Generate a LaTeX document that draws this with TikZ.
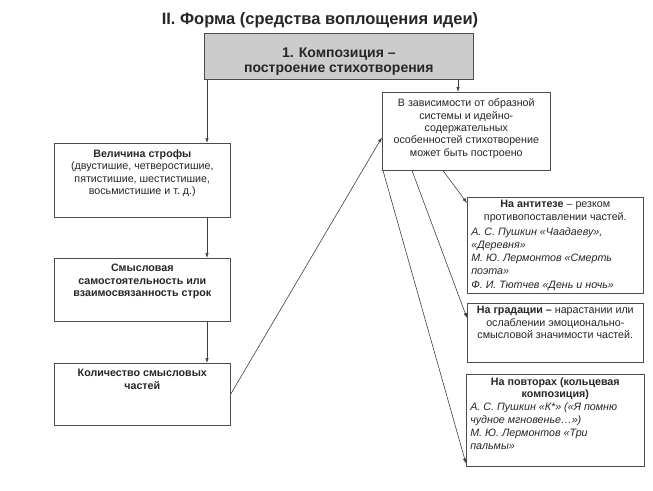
\documentclass[tikz,border=0pt]{standalone}
\usepackage{fontspec}
\setmainfont{Liberation Sans}
\usetikzlibrary{arrows.meta}
\long\def\boxtxt#1#2#3{\parbox[t][#2][t]{#1}{\centering #3}}

\begin{document}
\begin{tikzpicture}[x=1pt,y=-1pt,
	blk/.style={draw=black!70, line width=0.6pt, fill=white, inner xsep=4pt, inner ysep=0pt,
		anchor=north west, font=\fontsize{10.7}{12.4}\selectfont, text=black!85},
	arr/.style={draw=black!75, line width=0.6pt, -{Latex[length=5pt,width=3.5pt]}}]
			%%%%% START %%%%%
			\useasboundingbox (0,0) rectangle (653,490);
			
			\node[font=\fontsize{16.5}{18}\selectfont\bfseries, text=black!85] (title) at (320,20) {II. Форма (средства воплощения идеи)};
			
			\node[blk, fill=black!20, font=\fontsize{14}{15}\selectfont\bfseries] (top) at (204,33)
				{\boxtxt{261pt}{46pt}{\vspace*{15pt}1. Композиция –\\построение стихотворения}};
			
			% left column
			\node[blk] (b1) at (54,143) {\boxtxt{168pt}{74pt}{\vspace*{6.5pt}\textbf{Величина строфы}\\(двустишие, четверостишие,\\пятистишие, шестистишие,\\восьмистишие и т.~д.)}};
			\node[blk] (b2) at (54,258) {\boxtxt{168pt}{63pt}{\vspace*{6pt}\textbf{Смысловая\\самостоятельность или\\взаимосвязанность строк}}};
			\node[blk] (b3) at (54,363) {\boxtxt{168pt}{62pt}{\vspace*{6pt}\textbf{Количество смысловых\\частей}}};
			
			% right column
			\node[blk] (rbox) at (382,92) {\boxtxt{160pt}{78pt}{\vspace*{6.5pt}В зависимости от образной\\системы и идейно-\\содержательных\\особенностей стихотворение\\может быть построено}};
			\node[blk] (anti) at (467,197) {\boxtxt{168pt}{96pt}{\vspace*{3pt}\textbf{На антитезе} – резком\\противопоставлении частей.\par\vspace{2pt}
				\raggedright\itshape\fontsize{10.7}{13.2}\selectfont А. С. Пушкин «Чаадаеву»,\\«Деревня»\\М. Ю. Лермонтов «Смерть\\поэта»\\Ф. И. Тютчев «День и ночь»}};
			\node[blk] (grad) at (467,303) {\boxtxt{168pt}{59pt}{\vspace*{3pt}\textbf{На градации –} нарастании или\\ослаблении эмоционально-\\смысловой значимости частей.}};
			\node[blk] (rep) at (466,374) {\boxtxt{170pt}{92pt}{\vspace*{3.5pt}\textbf{На повторах (кольцевая\\композиция)}\par
				\raggedright\itshape\fontsize{10.7}{13}\selectfont А. С. Пушкин «К*» («Я помню\\чудное мгновенье…»)\\М. Ю. Лермонтов «Три\\пальмы»}};
			
			% connectors
			\coordinate (lx) at (207,0);
			\coordinate (rx) at (458,0);
			\draw[arr] (lx |- top.south) -- (lx |- b1.north);
			\draw[arr] (lx |- b1.south) -- (lx |- b2.north);
			\draw[arr] (lx |- b2.south) -- (lx |- b3.north);
			\draw[arr] (rx |- top.south) -- (rx |- rbox.north);
			\draw[arr] (b3.east) -- ([yshift=-6pt]rbox.west);
			\draw[arr] ([xshift=61pt]rbox.south west) -- ([yshift=-6pt]anti.north west);
			\draw[arr] ([xshift=30pt]rbox.south west) -- ([yshift=-15pt]grad.north west);
			\draw[arr] ([xshift=1pt]rbox.south west) -- ([yshift=3pt]rep.south west);
			%%%%% END %%%%%
\end{tikzpicture}
\end{document}
